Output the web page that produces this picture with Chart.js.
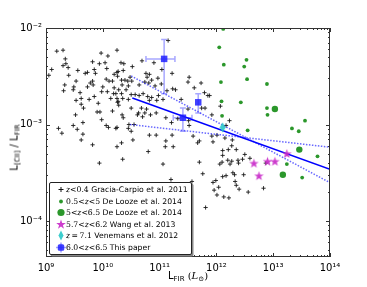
<!DOCTYPE html>
<html>
<head>
<meta charset="utf-8">
<script src="https://cdn.jsdelivr.net/npm/chart.js@4.4.1/dist/chart.umd.min.js"></script>
<style>
body { margin: 0; background: #fff; }
#wrap { position: relative; width: 367px; height: 287px; font-family: "DejaVu Sans", sans-serif; color: #000; }
#c { position: absolute; left: 0; top: 0; }
.legend { position: absolute; left: 49px; top: 182px; width: 141px; height: 71px; border: 1px solid #222; border-radius: 2px; background: #fff; box-shadow: 1.5px 1.5px 0 #888; font-size: 7.7px; }
.row { position: absolute; left: 0; height: 11px; line-height: 11px; white-space: nowrap; }
.row svg { position: absolute; left: 6px; top: 0; }
.row .t { position: absolute; left: 16px; }
.m { font-family: "DejaVu Serif", serif; }
.xt { position: absolute; top: 270px; left: 138px; width: 100px; text-align: center; font-size: 10px; }
.yt { position: absolute; left: -35px; top: 141px; width: 100px; text-align: center; font-size: 10px; transform: rotate(-90deg); }
sub { font-size: 7px; vertical-align: -2px; }
</style>
</head>
<body>
<div id="wrap">
  <canvas id="c" width="367" height="287"></canvas>
  <div class="yt">L<sub>[CII]</sub> / L<sub>FIR</sub></div>
  <div class="xt">L<sub>FIR</sub> <span class="m">(<i>L</i><sub>⊙</sub>)</span></div>
  <div class="legend" id="legend"></div>
</div>
<script>
// Gracia-Carpio et al. 2011, z<0.4 (log10 values)
const gcLogLfir = [
  9.19,9.30,9.34,9.30,9.35,9.39,9.10,9.05,9.56,9.40,
  9.53,9.33,9.49,9.48,9.31,9.60,9.53,9.62,9.62,9.66,
  9.52,9.97,9.82,9.94,10.09,10.04,10.07,10.25,9.69,9.73,
  9.85,9.87,9.82,9.78,9.73,9.83,10.00,10.08,9.98,10.06,
  10.11,10.20,10.25,10.17,10.20,10.19,10.23,10.25,10.14,10.26,
  9.85,9.76,9.92,9.90,9.95,10.17,9.98,10.06,10.10,10.23,
  9.22,9.28,9.48,9.55,9.65,9.65,9.62,11.15,10.32,10.37,
  10.52,10.69,10.90,11.04,11.22,10.27,10.36,10.26,10.33,10.39,
  10.44,10.51,10.48,10.76,10.82,10.78,10.86,10.97,10.74,10.81,
  10.64,10.92,11.03,11.13,11.28,11.23,10.34,10.45,10.28,10.41,
  10.33,10.50,10.57,10.64,10.71,10.79,10.86,10.98,10.45,10.95,
  10.82,11.06,11.38,10.35,10.27,10.28,10.50,10.68,10.77,10.63,
  10.74,10.84,10.94,10.61,10.70,10.34,10.36,11.11,11.32,11.21,
  10.46,10.55,10.25,10.45,10.50,10.82,10.94,11.22,10.53,11.11,
  11.52,11.50,11.61,11.73,11.79,11.85,11.88,12.07,11.74,11.80,
  11.50,11.92,12.23,11.52,12.17,11.59,11.92,12.01,12.15,11.70,
  11.94,12.28,11.51,9.82,9.94,10.25,10.35,10.80,11.10,11.24,
  11.06,11.20,11.67,12.27,12.11,12.21,12.35,12.11,12.50,12.20,
  12.27,12.38,12.46,12.39,12.06,12.10,12.24,12.59,11.70,11.76,
  11.94,11.99,12.11,12.17,12.29,12.32,12.33,12.35,12.40,12.04,
  11.96,12.01,12.13,12.22,12.48,11.81,11.57,12.83,12.56,12.87,10.33
];
const gcLogRatio = [
  -2.24,-2.23,-2.32,-2.39,-2.37,-2.41,-2.43,-2.49,-2.44,-2.49,
  -2.55,-2.59,-2.61,-2.64,-2.65,-2.67,-2.75,-2.73,-2.79,-2.83,
  -2.90,-2.26,-2.35,-2.37,-2.29,-2.36,-2.42,-2.23,-2.47,-2.46,
  -2.43,-2.47,-2.55,-2.57,-2.61,-2.59,-2.61,-2.66,-2.66,-2.53,
  -2.55,-2.48,-2.46,-2.55,-2.62,-2.68,-2.68,-2.73,-2.73,-2.77,
  -2.71,-2.74,-2.78,-2.87,-2.87,-2.86,-2.95,-3.01,-3.03,-3.04,
  -3.04,-3.09,-3.01,-3.05,-2.98,-3.10,-3.16,-2.13,-2.36,-2.37,
  -2.40,-2.34,-2.36,-2.43,-2.47,-2.45,-2.44,-2.50,-2.54,-2.54,
  -2.55,-2.55,-2.51,-2.47,-2.48,-2.51,-2.54,-2.52,-2.56,-2.57,
  -2.59,-2.60,-2.58,-2.65,-2.64,-2.63,-2.59,-2.60,-2.64,-2.64,
  -2.68,-2.69,-2.69,-2.70,-2.68,-2.71,-2.72,-2.70,-2.74,-2.75,
  -2.75,-2.74,-2.74,-2.73,-2.76,-2.80,-2.83,-2.83,-2.84,-2.88,
  -2.88,-2.90,-2.88,-2.90,-2.92,-2.90,-2.93,-2.93,-2.94,-2.98,
  -3.00,-3.00,-3.03,-3.04,-3.07,-3.11,-3.11,-3.11,-3.16,-3.17,
  -2.51,-2.56,-2.62,-2.57,-2.67,-2.70,-2.70,-2.81,-2.83,-2.83,
  -2.84,-2.90,-2.96,-3.01,-3.01,-3.12,-3.12,-3.11,-3.14,-3.17,
  -3.18,-3.16,-2.96,-3.21,-3.40,-3.23,-3.36,-3.28,-3.23,-3.23,
  -3.41,-3.57,-3.19,-3.22,-3.27,-3.26,-3.26,-3.32,-3.31,-3.37,
  -3.38,-3.37,-3.36,-3.40,-3.41,-3.39,-3.41,-3.35,-3.39,-3.51,
  -3.60,-3.58,-3.54,-3.53,-3.50,-3.52,-3.59,-3.63,-3.67,-3.65,
  -3.68,-3.73,-3.75,-3.76,-3.52,-3.86,-3.59,-3.66,-3.70,-3.40,-3.19
];

// De Looze et al. 2014, 0.5<z<5
const dlLowLogLfir  = [12.12,12.05,12.13,12.53,12.49,12.54,12.08,12.89,12.09,12.43,12.89,12.90,12.10,13.56,13.33,13.45,12.55,13.78,13.24,13.51];
const dlLowLogRatio = [-2.01,-2.20,-2.38,-2.33,-2.40,-2.53,-2.56,-2.58,-2.76,-2.77,-2.83,-2.90,-2.91,-2.96,-3.04,-3.07,-3.06,-3.33,-3.41,-3.55];

// De Looze et al. 2014, 5<z<6.5
const dlHighLogLfir  = [13.03,13.46,13.17];
const dlHighLogRatio = [-2.84,-3.26,-3.52];

// Wang et al. 2013
const wangLogLfir  = [12.66,12.75,12.90,13.03,13.24];
const wangLogRatio = [-3.40,-3.53,-3.38,-3.38,-3.30];

// Venemans et al. 2012
const venLogLfir  = [12.11];
const venLogRatio = [-3.03];

// This paper, with error bars (log10)
const tpLogLfir   = [11.08, 11.41, 11.68];
const tpLogRatio  = [-2.32, -2.93, -2.77];
const tpLogLLo    = [10.76, 11.24, 11.68];
const tpLogLHi    = [11.27, 11.57, 11.68];
const tpLogRLo    = [-2.68, -3.07, -2.88];
const tpLogRHi    = [-2.12, -2.83, -2.68];

// fits (log10 end points)
const fitLogL      = [10.52, 14.0];
const fitLogRatio  = [-2.725, -3.464];
const fitALogL     = [10.50, 14.0];
const fitALogRatio = [-2.497, -3.603];
const fitBLogL     = [10.48, 14.0];
const fitBLogRatio = [-3.00, -3.235];

const xTicks = [1e9, 1e10, 1e11, 1e12, 1e13, 1e14];
const xTickLabels = ['10⁹', '10¹⁰', '10¹¹', '10¹²', '10¹³', '10¹⁴'];
const yTicks = [1e-4, 1e-3, 1e-2];
const yTickLabels = ['10⁻⁴', '10⁻³', '10⁻²'];

const toPts = (lx, ly) => lx.map((v, i) => ({ x: Math.pow(10, v), y: Math.pow(10, ly[i]) }));

function markerCanvas(w, h, draw) {
    const cv = document.createElement('canvas');
    cv.width = w; cv.height = h;
    draw(cv.getContext('2d'), w, h);
    return cv;
}
function starPath(ctx, cx, cy, ro, ri) {
    ctx.beginPath();
    for (let i = 0; i < 10; i++) {
        const r = i % 2 ? ri : ro;
        const a = -Math.PI / 2 + i * Math.PI / 5;
        ctx.lineTo(cx + r * Math.cos(a), cy + r * Math.sin(a));
    }
    ctx.closePath();
}
const starImg = markerCanvas(11, 11, (ctx) => {
    starPath(ctx, 5.5, 6, 5, 2);
    ctx.fillStyle = 'rgba(200,40,200,0.9)';
    ctx.fill();
});
const diamondImg = markerCanvas(7, 11, (ctx) => {
    ctx.beginPath();
    ctx.moveTo(3.5, 0.5); ctx.lineTo(6.5, 5.5); ctx.lineTo(3.5, 10.5); ctx.lineTo(0.5, 5.5);
    ctx.closePath();
    ctx.fillStyle = 'rgba(40,200,200,0.9)';
    ctx.fill();
});

const errorBars = {
    id: 'errorBars',
    beforeDatasetsDraw(chart) {
        const { ctx, scales: { x, y } } = chart;
        ctx.save();
        ctx.strokeStyle = 'rgba(60,60,255,0.45)';
        ctx.lineWidth = 1.5;
        tpLogLfir.forEach((lx, i) => {
            const px = x.getPixelForValue(Math.pow(10, lx));
            const py = y.getPixelForValue(Math.pow(10, tpLogRatio[i]));
            const y0 = y.getPixelForValue(Math.pow(10, tpLogRLo[i]));
            const y1 = y.getPixelForValue(Math.pow(10, tpLogRHi[i]));
            const x0 = x.getPixelForValue(Math.pow(10, tpLogLLo[i]));
            const x1 = x.getPixelForValue(Math.pow(10, tpLogLHi[i]));
            ctx.beginPath();
            ctx.moveTo(px, y0); ctx.lineTo(px, y1);
            ctx.moveTo(px - 3, y0); ctx.lineTo(px + 3, y0);
            ctx.moveTo(px - 3, y1); ctx.lineTo(px + 3, y1);
            if (x1 - x0 > 1) {
                ctx.moveTo(x0, py); ctx.lineTo(x1, py);
                ctx.moveTo(x0, py - 3); ctx.lineTo(x0, py + 3);
                ctx.moveTo(x1, py - 3); ctx.lineTo(x1, py + 3);
            }
            ctx.stroke();
        });
        ctx.restore();
    }
};

const frame = {
    id: 'frame',
    afterDraw(chart) {
        const { ctx, chartArea: a, scales: { x, y } } = chart;
        ctx.save();
        ctx.strokeStyle = '#333';
        ctx.lineWidth = 1;
        ctx.strokeRect(a.left + 0.5, a.top + 0.5, a.right - a.left - 1, a.bottom - a.top - 1);
        ctx.beginPath();
        for (let e = 9; e <= 14; e++) {
            for (let k = 1; k <= 9; k++) {
                const v = k * Math.pow(10, e);
                if (v > x.max * 1.0001) break;
                const px = Math.round(x.getPixelForValue(v)) + 0.5;
                const len = k === 1 ? 4 : 2;
                ctx.moveTo(px, a.bottom); ctx.lineTo(px, a.bottom - len);
                ctx.moveTo(px, a.top); ctx.lineTo(px, a.top + len);
            }
        }
        for (let e = -5; e <= -2; e++) {
            for (let k = 1; k <= 9; k++) {
                const v = k * Math.pow(10, e);
                if (v < y.min || v > y.max * 1.0001) continue;
                const py = Math.round(y.getPixelForValue(v)) + 0.5;
                const len = k === 1 ? 4 : 2;
                ctx.moveTo(a.left, py); ctx.lineTo(a.left + len, py);
                ctx.moveTo(a.right, py); ctx.lineTo(a.right - len, py);
            }
        }
        ctx.stroke();
        ctx.restore();
    }
};

function lineSet(lx, ly, color, dash, order) {
    return {
        data: toPts(lx, ly), showLine: true, borderColor: color, borderWidth: 1.5,
        borderDash: dash, pointRadius: 0, fill: false, order
    };
}

new Chart(document.getElementById('c'), {
    type: 'scatter',
    data: {
        datasets: [
            { data: toPts(tpLogLfir, tpLogRatio), pointStyle: 'rect', radius: 4.6, backgroundColor: 'rgba(30,30,255,0.85)', borderWidth: 0, order: 0 },
            { data: toPts(venLogLfir, venLogRatio), pointStyle: diamondImg, order: 1 },
            { data: toPts(wangLogLfir, wangLogRatio), pointStyle: starImg, order: 2 },
            lineSet(fitLogL, fitLogRatio, '#0000ff', [], 3),
            lineSet(fitALogL, fitALogRatio, 'rgba(40,40,255,0.7)', [1.5, 1.5], 4),
            lineSet(fitBLogL, fitBLogRatio, 'rgba(40,40,255,0.7)', [1.5, 1.5], 5),
            { data: toPts(dlHighLogLfir, dlHighLogRatio), radius: 3.2, backgroundColor: 'rgba(20,140,20,0.9)', borderWidth: 0, order: 6 },
            { data: toPts(dlLowLogLfir, dlLowLogRatio), radius: 1.9, backgroundColor: 'rgba(20,140,20,0.9)', borderWidth: 0, order: 7 },
            { data: toPts(gcLogLfir, gcLogRatio), pointStyle: 'cross', radius: 2.1, borderColor: '#1a1a1a', borderWidth: 0.9, order: 8 }
        ]
    },
    options: {
        responsive: false,
        animation: false,
        devicePixelRatio: 1,
        layout: { padding: { top: 28, right: 37, left: 0, bottom: 0 } },
        plugins: { legend: { display: false }, tooltip: { enabled: false } },
        scales: {
            x: {
                type: 'logarithmic', min: 1e9, max: 1e14,
                grid: { display: false, drawTicks: false },
                border: { display: false },
                afterFit: s => { s.height = 30; },
                afterBuildTicks: s => { s.ticks = xTicks.map(v => ({ value: v })); },
                ticks: {
                    padding: 5, maxRotation: 0, autoSkip: false, color: '#000',
                    font: { family: 'DejaVu Sans', size: 10 },
                    callback: v => xTickLabels[xTicks.indexOf(v)]
                }
            },
            y: {
                type: 'logarithmic', min: 4.24e-5, max: 1e-2,
                grid: { display: false, drawTicks: false },
                border: { display: false },
                afterFit: s => { s.width = 46; },
                afterBuildTicks: s => { s.ticks = yTicks.map(v => ({ value: v })); },
                ticks: {
                    padding: 4, autoSkip: false, color: '#000',
                    font: { family: 'DejaVu Sans', size: 10 },
                    callback: v => yTickLabels[yTicks.indexOf(v)]
                }
            }
        }
    },
    plugins: [errorBars, frame]
});

// legend
const legendRows = [
    { m: '<line x1="2.5" y1="5.5" x2="7.5" y2="5.5" stroke="#111"/><line x1="5" y1="3" x2="5" y2="8" stroke="#111"/>', math: '<i>z</i>&lt;0.4', txt: 'Gracia-Carpio et al. 2011' },
    { m: '<circle cx="5" cy="5.5" r="1.9" fill="rgba(20,140,20,0.9)"/>', math: '0.5&lt;<i>z</i>&lt;5', txt: 'De Looze et al. 2014' },
    { m: '<circle cx="5" cy="5.5" r="3.6" fill="rgba(20,140,20,0.9)"/>', math: '5&lt;<i>z</i>&lt;6.5', txt: 'De Looze et al. 2014' },
    { m: '<polygon points="5,0.5 6.2,4 9.8,4 6.9,6.2 8,9.8 5,7.6 2,9.8 3.1,6.2 0.2,4 3.8,4" fill="rgba(200,40,200,0.9)"/>', math: '5.7&lt;<i>z</i>&lt;6.2', txt: 'Wang et al. 2013' },
    { m: '<polygon points="5,0.5 7.5,5.5 5,10.5 2.5,5.5" fill="rgba(40,200,200,0.9)"/>', math: '<i>z</i>&thinsp;=&thinsp;7.1', txt: 'Venemans et al. 2012' },
    { m: '<line x1="0" y1="5.5" x2="10" y2="5.5" stroke="rgba(60,60,255,0.5)" stroke-width="1.5"/><line x1="5" y1="0.5" x2="5" y2="10.5" stroke="rgba(60,60,255,0.5)" stroke-width="1.5"/><rect x="1.8" y="2.3" width="6.4" height="6.4" rx="1.5" fill="rgba(30,30,255,0.85)"/>', math: '6.0&lt;<i>z</i>&lt;6.5', txt: 'This paper' }
];
document.getElementById('legend').innerHTML = legendRows.map((r, i) => `
    <div class="row" style="top:${(1.3 + 11.5 * i).toFixed(1)}px">
        <svg width="10" height="11" viewBox="0 0 10 11">${r.m}</svg>
        <span class="t"><span class="m">${r.math}</span> ${r.txt}</span>
    </div>`).join('');
</script>
</body>
</html>
